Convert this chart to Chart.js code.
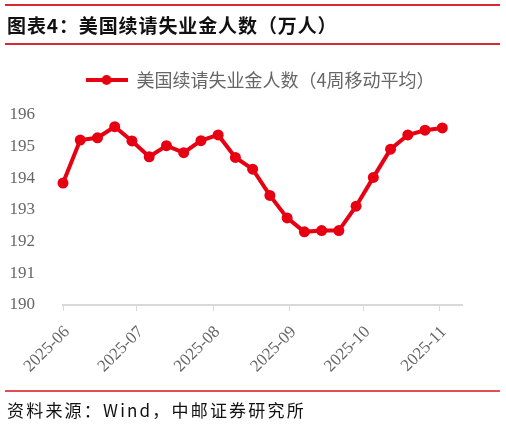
<!DOCTYPE html>
<html>
<head>
<meta charset="utf-8">
<script src="https://cdn.jsdelivr.net/npm/chart.js@4"></script>
<style>
  html, body { margin: 0; padding: 0; background: #fff; }
  #wrap { position: relative; width: 506px; height: 426px; overflow: hidden; }
  #c { position: absolute; left: 0; top: 0; }
  .rule { position: absolute; left: 5px; width: 495px; height: 2px; background: #d9282f; }
  #title { position: absolute; left: 7px; top: 12px; font: bold 19px "Noto Sans CJK SC"; color: #111; line-height: 26px; letter-spacing: 0.9px; white-space: nowrap; }
  #src { position: absolute; left: 7px; top: 397px; font: 17px "Noto Sans CJK SC"; color: #111; line-height: 26px; letter-spacing: 2.2px; white-space: nowrap; }
</style>
</head>
<body>
<div id="wrap">
  <canvas id="c" width="506" height="426"></canvas>
  <div class="rule" style="top:4px"></div>
  <div id="title">图表4：美国续请失业金人数（万人）</div>
  <div class="rule" style="top:43px"></div>
  <div class="rule" style="top:390px; height:1.5px; background:#e05050"></div>
  <div id="src">资料来源：Wind，中邮证券研究所</div>
</div>
<script>
// ---- data ----
const seriesName = '美国续请失业金人数（4周移动平均）';
const startDate = '2025-06-01';
const weekDates = ['2025-06-01','2025-06-08','2025-06-15','2025-06-22','2025-06-29','2025-07-06','2025-07-13','2025-07-20','2025-07-27','2025-08-03','2025-08-10','2025-08-17','2025-08-24','2025-08-31','2025-09-07','2025-09-14','2025-09-21','2025-09-28','2025-10-05','2025-10-12','2025-10-19','2025-10-26','2025-11-02'];
const claimsValues = [193.85,195.21,195.28,195.63,195.18,194.68,195.03,194.81,195.19,195.37,194.66,194.29,193.46,192.75,192.31,192.35,192.35,193.12,194.03,194.92,195.37,195.52,195.59];
const monthTickDates = ['2025-06-01','2025-07-01','2025-08-01','2025-09-01','2025-10-01','2025-11-01'];
const monthTickLabels = ['2025-06','2025-07','2025-08','2025-09','2025-10','2025-11'];
const xMaxDate = '2025-11-10';
const yMin = 190, yMax = 196, yStep = 1;

// ---- helpers ----
const DAY = 86400000;
const dayOf = s => Math.round((Date.parse(s + 'T00:00:00Z') - Date.parse(startDate + 'T00:00:00Z')) / DAY);
const points = weekDates.map((d, i) => ({ x: dayOf(d), y: claimsValues[i] }));
const tickDays = monthTickDates.map(dayOf);

const RED = '#e60012';
// legend marker: line with dot
const mk = document.createElement('canvas');
mk.width = 42; mk.height = 12;
{
  const g = mk.getContext('2d');
  g.strokeStyle = RED; g.lineWidth = 4; g.lineCap = 'butt';
  g.beginPath(); g.moveTo(0, 6); g.lineTo(42, 6); g.stroke();
  g.fillStyle = RED; g.beginPath(); g.arc(21, 6, 5, 0, Math.PI * 2); g.fill();
}

// shift the legend drawing box (keeps the plot area where the layout put it)
const legendShift = {
  id: 'legendShift',
  afterLayout(chart) {
    const lg = chart.legend;
    if (!lg) return;
    lg.top -= 16; lg.bottom -= 16;
    lg.left += 14;
  }
};

new Chart(document.getElementById('c'), {
  type: 'line',
  data: {
    datasets: [{
      label: seriesName,
      data: points,
      borderColor: RED,
      backgroundColor: RED,
      borderWidth: 4,
      pointRadius: 5.5,
      pointHoverRadius: 5.5,
      pointBorderWidth: 0,
      pointBackgroundColor: RED,
      tension: 0,
      clip: false,
      pointStyle: 'circle'
    }]
  },
  plugins: [legendShift],
  options: {
    responsive: false,
    animation: false,
    devicePixelRatio: 1,
    layout: { padding: { left: 0, right: 0, top: 57, bottom: 0 } },
    plugins: {
      tooltip: { enabled: false },
      legend: {
        position: 'top',
        labels: {
          usePointStyle: true,
          pointStyleWidth: 42,
          padding: 30,
          color: '#666',
          font: { family: 'Noto Sans CJK SC', size: 18 },
          generateLabels: chart => chart.data.datasets.map((ds, i) => ({
            text: ds.label, pointStyle: mk, fillStyle: RED, strokeStyle: RED,
            lineWidth: 0, datasetIndex: i, hidden: false, fontColor: '#666'
          }))
        }
      }
    },
    scales: {
      x: {
        type: 'linear',
        min: 0,
        max: dayOf(xMaxDate),
        afterBuildTicks: s => { s.ticks = tickDays.map(v => ({ value: v })); },
        afterFit: s => { s.height = 121; },
        ticks: {
          autoSkip: false,
          minRotation: 45,
          maxRotation: 45,
          padding: 11,
          labelOffset: 4,
          color: '#666',
          font: { family: 'Liberation Serif', size: 17 },
          callback: v => { const i = tickDays.indexOf(v); return i >= 0 ? monthTickLabels[i] : ''; }
        },
        grid: { display: true, drawOnChartArea: false, drawTicks: true, tickLength: 6, color: '#d9d9d9', lineWidth: 1 },
        border: { display: true, color: '#d9d9d9', width: 2 }
      },
      y: {
        min: yMin,
        max: yMax,
        afterFit: s => { s.width = 63; },
        ticks: {
          stepSize: yStep,
          padding: 20,
          color: '#666',
          font: { family: 'Liberation Serif', size: 17 }
        },
        grid: { display: false },
        border: { display: false }
      },
      yRight: {
        position: 'right',
        min: yMin,
        max: yMax,
        afterFit: s => { s.width = 44; },
        ticks: { display: false },
        grid: { display: false },
        border: { display: false }
      }
    }
  }
});
</script>
</body>
</html>
